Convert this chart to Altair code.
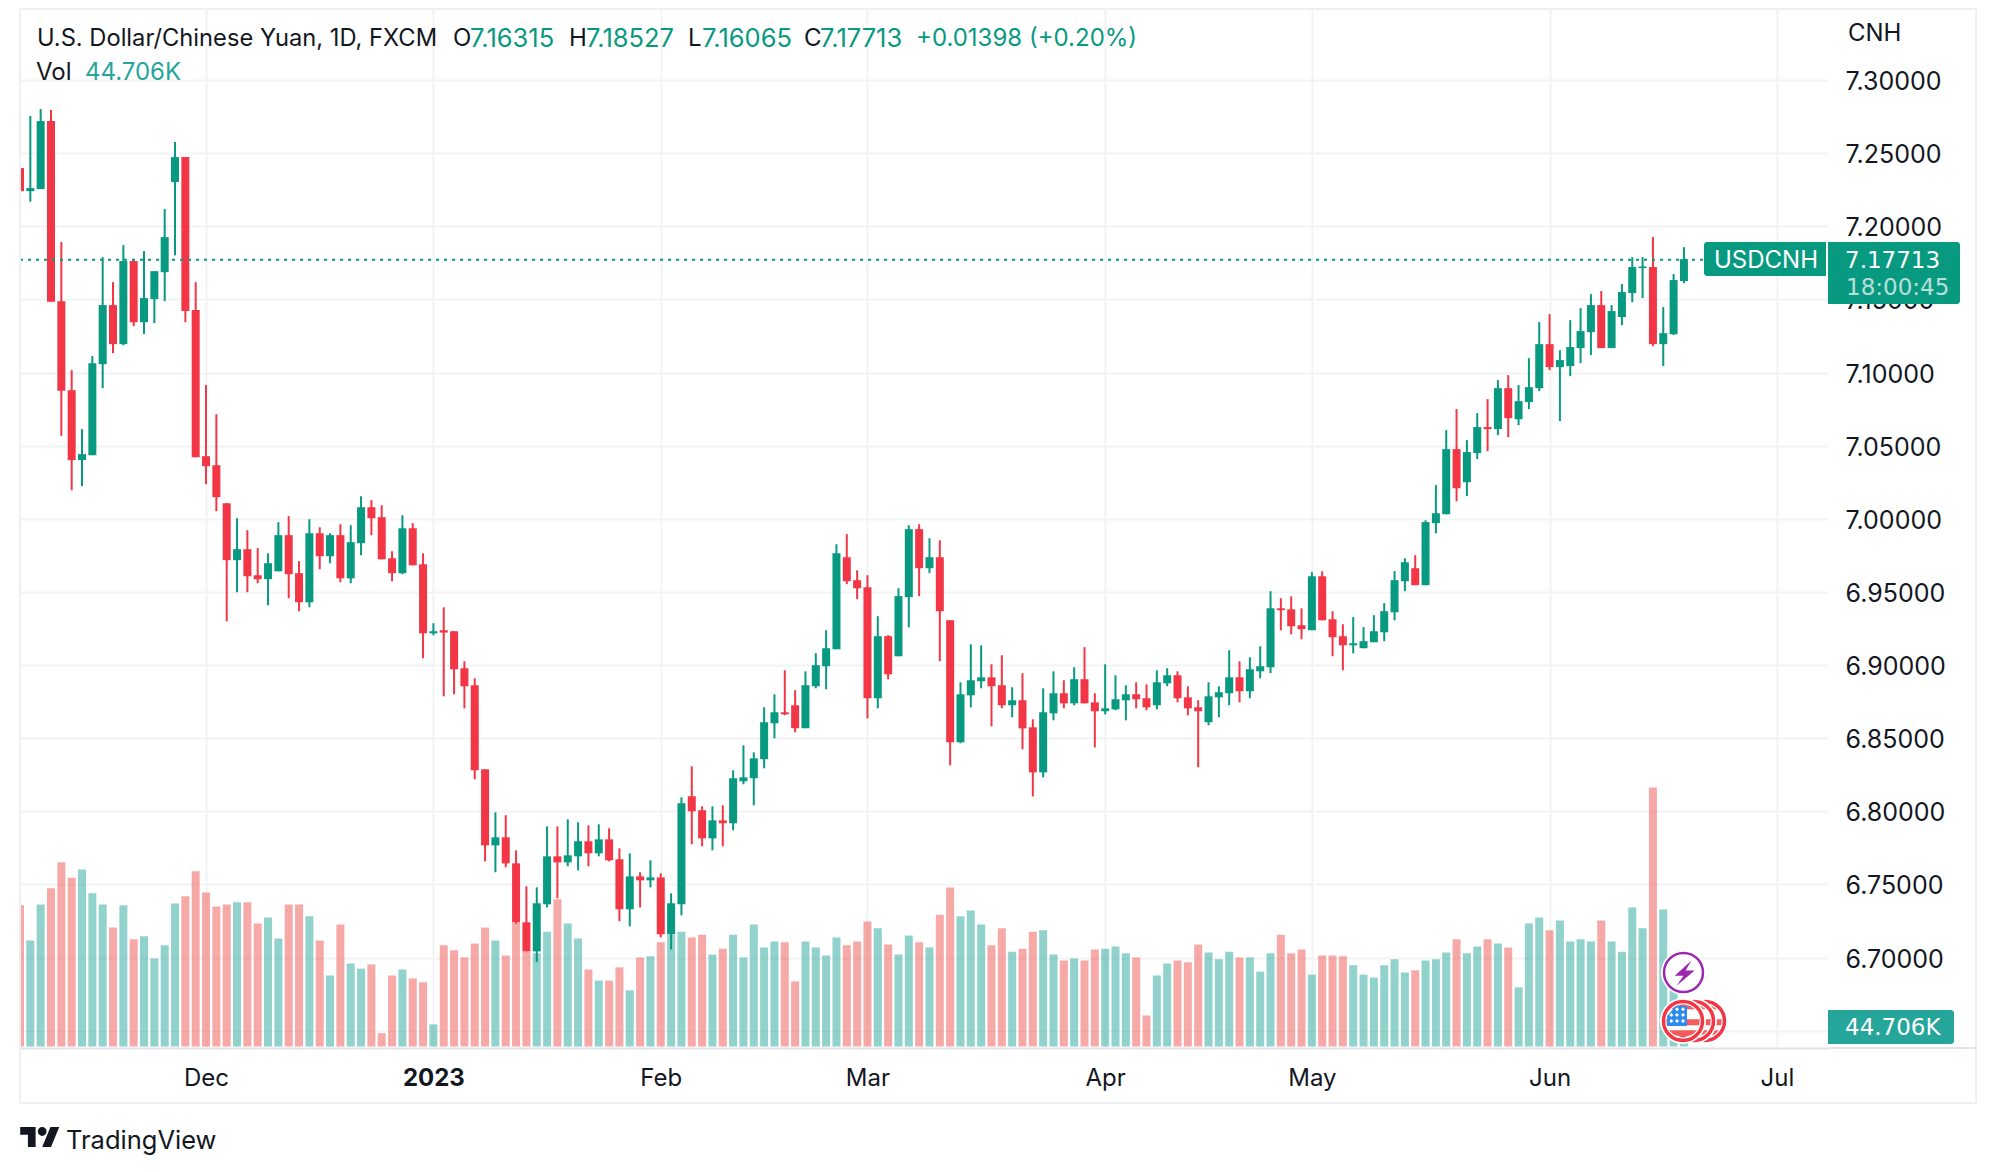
import altair as alt
import pandas as pd

open_ = [7.2398,7.2240,7.2254,7.2719,7.1488,7.0879,7.0401,7.0435,7.1057,7.1461,
7.1194,7.1762,7.1344,7.1502,7.1686,7.2302,7.2473,7.1427,7.0428,7.0366,
7.0106,6.9717,6.9792,6.9614,6.9587,6.9641,6.9888,6.9628,6.9429,6.9901,
6.9744,6.9888,6.9593,6.9833,7.0079,7.0011,6.9730,6.9628,6.9935,6.9689,
6.9217,6.9238,6.9231,6.8978,6.8862,6.8287,6.7767,6.7822,6.7644,6.7241,
6.7042,6.7364,6.7692,6.7651,6.7692,6.7795,6.7713,6.7808,6.7672,6.7330,
6.7555,6.7528,6.7548,6.7159,6.7364,6.8103,6.8007,6.7815,6.7938,6.7918,
6.8205,6.8226,6.8356,6.8602,6.8677,6.8725,6.8568,6.8855,6.8992,6.9108,
6.9737,6.9580,6.9532,6.8773,6.9197,6.9060,6.9464,6.9929,6.9662,6.9737,
6.9306,6.8472,6.8793,6.8889,6.8916,6.8862,6.8725,6.8759,6.8574,6.8266,
6.8670,6.8807,6.8738,6.8903,6.8745,6.8684,6.8697,6.8759,6.8800,6.8773,
6.8725,6.8875,6.8930,6.8779,6.8711,6.8609,6.8779,6.8807,6.8916,6.8821,
6.8957,6.8985,6.9388,6.9381,6.9272,6.9238,6.9607,6.9313,6.9197,6.9135,
6.9115,6.9156,6.9224,6.9361,6.9573,6.9662,6.9546,6.9970,7.0031,7.0476,
7.0250,7.0449,7.0627,7.0613,7.0893,7.0681,7.0798,7.0893,7.1194,7.1037,
7.1044,7.1167,7.1276,7.1461,7.1167,7.1379,7.1543,7.1714,7.1721,7.1194,
7.1262,7.1625]
high = [7.2596,7.2754,7.2801,7.2795,7.1892,7.1016,7.0613,7.1112,7.1789,7.1618,
7.1871,7.1769,7.1830,7.1693,7.2117,7.2576,7.2473,7.1618,7.0914,7.0715,
7.0106,7.0004,6.9922,6.9799,6.9764,6.9977,7.0018,6.9710,6.9997,6.9942,
6.9901,6.9963,6.9956,7.0154,7.0127,7.0093,6.9778,7.0024,6.9970,6.9764,
6.9286,6.9395,6.9231,6.9026,6.8909,6.8287,6.7993,6.7973,6.7733,6.7487,
6.7480,6.7897,6.7897,6.7945,6.7925,6.7904,6.7911,6.7884,6.7747,6.7713,
6.7583,6.7665,6.7576,6.7439,6.8096,6.8308,6.8034,6.8034,6.8041,6.8280,
6.8451,6.8403,6.8711,6.8800,6.8964,6.8828,6.8957,6.9081,6.9238,6.9826,
6.9895,6.9648,6.9614,6.9334,6.9204,6.9525,6.9956,6.9963,6.9867,6.9853,
6.9306,6.8882,6.9142,6.9135,6.9005,6.9067,6.8848,6.8944,6.8629,6.8841,
6.8957,6.8896,6.8985,6.9122,6.8807,6.9005,6.8930,6.8862,6.8882,6.8868,
6.8964,6.8978,6.8957,6.8855,6.8759,6.8882,6.8855,6.9101,6.9026,6.9053,
6.9128,6.9505,6.9457,6.9470,6.9388,6.9635,6.9641,6.9368,6.9279,6.9327,
6.9259,6.9341,6.9423,6.9642,6.9730,6.9751,6.9990,7.0230,7.0606,7.0750,
7.0538,7.0722,7.0818,7.0948,7.0982,7.0914,7.1098,7.1345,7.1399,7.1153,
7.1358,7.1440,7.1536,7.1557,7.1461,7.1605,7.1789,7.1789,7.1926,7.1447,
7.1673,7.1857]
low = [7.1928,7.2168,7.2254,7.1484,7.0567,7.0195,7.0223,7.0435,7.0893,7.1132,
7.1187,7.1317,7.1262,7.1338,7.1488,7.1801,7.1344,7.0421,7.0236,7.0052,
6.9299,6.9498,6.9498,6.9559,6.9409,6.9641,6.9457,6.9368,6.9395,6.9655,
6.9696,6.9566,6.9559,6.9751,6.9888,6.9723,6.9573,6.9621,6.9682,6.9046,
6.9204,6.8786,6.8800,6.8704,6.8219,6.7658,6.7583,6.7617,6.7232,6.7042,
6.6969,6.7343,6.7405,6.7624,6.7596,6.7624,6.7692,6.7658,6.7248,6.7213,
6.7343,6.7480,6.7138,6.7056,6.7289,6.7774,6.7761,6.7733,6.7761,6.7870,
6.8185,6.8041,6.8294,6.8499,6.8657,6.8540,6.8568,6.8841,6.8834,6.9108,
6.9553,6.9450,6.8636,6.8704,6.8903,6.9060,6.9258,6.9471,6.9628,6.9026,
6.8314,6.8465,6.8711,6.8841,6.8581,6.8704,6.8643,6.8424,6.8102,6.8232,
6.8622,6.8704,6.8725,6.8738,6.8437,6.8663,6.8691,6.8622,6.8704,6.8691,
6.8697,6.8855,6.8745,6.8656,6.8301,6.8588,6.8643,6.8725,6.8745,6.8773,
6.8909,6.8944,6.9238,6.9210,6.9176,6.9238,6.9306,6.9060,6.8964,6.9080,
6.9115,6.9156,6.9163,6.9306,6.9505,6.9546,6.9546,6.9901,7.0031,7.0120,
7.0155,7.0408,7.0462,7.0572,7.0558,7.0640,7.0750,7.0873,7.1016,7.0668,
7.0975,7.1064,7.1119,7.1167,7.1167,7.1324,7.1481,7.1509,7.1180,7.1044,
7.1256,7.1611]
close = [7.2240,7.2261,7.2719,7.1484,7.0875,7.0401,7.0442,7.1064,7.1461,7.1194,
7.1762,7.1344,7.1509,7.1693,7.1926,7.2473,7.1420,7.0421,7.0360,7.0148,
6.9717,6.9792,6.9607,6.9587,6.9696,6.9888,6.9621,6.9429,6.9901,6.9744,
6.9888,6.9593,6.9840,7.0079,7.0004,6.9723,6.9628,6.9935,6.9682,6.9217,
6.9231,6.9222,6.8971,6.8855,6.8280,6.7767,6.7822,6.7644,6.7243,6.7042,
6.7371,6.7692,6.7651,6.7699,6.7795,6.7713,6.7808,6.7665,6.7330,6.7555,
6.7528,6.7548,6.7159,6.7371,6.8055,6.8000,6.7815,6.7938,6.7918,6.8226,
6.8232,6.8362,6.8609,6.8677,6.8663,6.8568,6.8862,6.8999,6.9115,6.9765,
6.9573,6.9525,6.8773,6.9197,6.8937,6.9471,6.9929,6.9662,6.9737,6.9368,
6.8472,6.8800,6.8896,6.8916,6.8855,6.8725,6.8759,6.8567,6.8266,6.8677,
6.8807,6.8738,6.8903,6.8738,6.8684,6.8704,6.8766,6.8800,6.8766,6.8711,
6.8882,6.8930,6.8773,6.8704,6.8684,6.8786,6.8814,6.8916,6.8821,6.8971,
6.8992,6.9388,6.9375,6.9265,6.9245,6.9607,6.9306,6.9190,6.9135,6.9149,
6.9163,6.9231,6.9368,6.9580,6.9703,6.9546,6.9977,7.0038,7.0476,7.0209,
7.0456,7.0627,7.0613,7.0893,7.0688,7.0804,7.0900,7.1194,7.1037,7.1085,
7.1174,7.1283,7.1461,7.1167,7.1420,7.1550,7.1721,7.1725,7.1194,7.1269,
7.1632,7.1775]
volume_k = [332,249,334,372,433,397,416,360,334,280,332,252,259,207,238,336,353,412,362,329,
334,339,339,289,303,254,334,334,306,249,167,287,195,183,193,31,167,181,160,151,
52,238,226,209,242,280,249,214,294,223,219,270,346,289,254,181,155,155,186,132,
209,212,245,263,270,256,263,216,230,263,209,287,233,247,245,153,247,233,214,256,
238,247,294,278,240,216,261,245,233,310,374,306,320,287,238,278,223,230,270,273,
216,202,207,202,228,230,235,219,209,73,167,195,202,198,240,221,205,223,209,209,
176,219,263,219,228,169,214,214,212,191,169,162,191,205,174,179,202,205,221,252,
219,235,252,242,233,139,289,303,273,296,247,252,247,296,247,223,327,278,609,322,
163,44.706]

tick_index = [18, 40, 62, 82, 105, 125, 148, 170]
tick_names = ["Dec", "2023", "Feb", "Mar", "Apr", "May", "Jun", "Jul"]
price_ticks = [7.30,7.25,7.20,7.15,7.10,7.05,7.00,6.95,6.90,6.85,6.80,6.75,6.70,6.65]
last_price = 7.17713

GREEN, RED = "#089981", "#F23645"
VGREEN, VRED = "#26A69A", "#EF5350"
INK = "#131722"
FONT = "Inter"
MONO = "DejaVu Sans"

df = pd.DataFrame({"i": range(len(close)), "open": open_, "high": high, "low": low,
                   "close": close, "vol": volume_k})
df["top"] = df[["open", "close"]].max(axis=1)
df["bot"] = df[["open", "close"]].min(axis=1)
up = df["close"] >= df["open"]
df["ccol"] = [GREEN if u else RED for u in up]
df["vcol"] = [VGREEN if u else VRED for u in up]

W, H = 1808, 1040
one = pd.DataFrame({"a": [0]})
label_map = "{" + ",".join(f"{i}:'{n}'" for i, n in zip(tick_index, tick_names)) + "}"

X = alt.X("i:Q", title=None, scale=alt.Scale(domain=[0, 174.94], nice=False, zero=False, padding=0),
          axis=alt.Axis(values=tick_index, labelExpr=f"{label_map}[datum.value]", ticks=False,
                        grid=True, gridColor="#f2f3f4", gridWidth=2,
                        domainColor="#e0e3eb", domainWidth=2, labelFont=FONT, labelFontSize=24,
                        labelColor=INK, labelPadding=18, labelFlush=False, labelOverlap=False,
                        labelFontWeight={"condition": {"test": "datum.value === 40", "value": "bold"},
                                         "value": "normal"}))
PS = alt.Scale(domain=[6.63816, 7.34923], nice=False, zero=False)
Y_AXIS = alt.Y("high:Q", title=None, scale=PS,
               axis=alt.Axis(orient="right", values=price_ticks, format=".5f", ticks=False,
                             grid=True, gridColor="#f2f3f4", gridWidth=2, domain=False,
                             labelFont=FONT, labelFontSize=25, labelColor=INK, labelPadding=17,
                             labelOffset=1.5, labelOverlap=False, labelFlush=False))
base = alt.Chart(df)

vol = base.mark_bar(size=8, clip=True, opacity=0.5, orient="vertical").encode(
    x=X,
    y=alt.Y("vol:Q", title=None, axis=None,
            scale=alt.Scale(domain=[0, 2441.4], range=[1038.5, 0], nice=False)),
    color=alt.Color("vcol:N", scale=None, legend=None))
wick = base.mark_rule(strokeWidth=2, clip=True).encode(
    x=X, y=Y_AXIS, y2="low:Q", color=alt.Color("ccol:N", scale=None, legend=None))
body = base.mark_bar(size=8, clip=True, orient="vertical").encode(
    x=X, y=alt.Y("top:Q", title=None, scale=PS, axis=None), y2="bot:Q",
    color=alt.Color("ccol:N", scale=None, legend=None))
price_line = alt.Chart(pd.DataFrame({"p": [last_price]})).mark_rule(
    strokeWidth=2, strokeDash=[3, 5], color=GREEN).encode(
    x=alt.value(0), x2=alt.value(1684), y=alt.Y("p:Q", title=None, scale=PS, axis=None))


def px(v):
    return alt.value(v - 20)


def py(v):
    return alt.value(v - 8)


def text(s, x, y, color=INK, size=24, weight="normal", opacity=1.0, font=FONT):
    return alt.Chart(one).mark_text(text=s, align="left", baseline="middle", color=color, font=font,
                                    fontSize=size, fontWeight=weight, opacity=opacity).encode(
        x=px(x), y=py(y))


def rect(x0, x1, y0, y1, color, **kw):
    return alt.Chart(one).mark_rect(color=color, **kw).encode(
        x=px(x0), x2=px(x1), y=py(y0), y2=py(y1))


def line(x0, x1, y0, y1, color="#eef0f4", w=2):
    return alt.Chart(one).mark_rule(color=color, strokeWidth=w).encode(
        x=px(x0), x2=px(x1), y=py(y0), y2=py(y1))


def sym(shape, x, y, size, **kw):
    return alt.Chart(one).mark_point(shape=shape, size=size, **kw).encode(x=px(x), y=py(y))


borders = [
    line(20, 20, 9, 1103), line(1976, 1976, 9, 1103), line(20, 1976, 9, 9),
    line(20, 1976, 1103, 1103), line(1828, 1976, 1048, 1048, color="#e0e3eb"),
]

tags = [
    rect(1704, 1826, 242, 276, GREEN, cornerRadiusTopLeft=3, cornerRadiusBottomLeft=3),
    rect(1828, 1960, 242, 304, GREEN, cornerRadiusTopRight=3, cornerRadiusBottomRight=3),
    rect(1828, 1954, 1010, 1044, VGREEN, cornerRadiusTopRight=3, cornerRadiusBottomRight=3),
    text("USDCNH", 1714, 260.5, color="#ffffff"),
    text("7.17713", 1845, 260.5, color="#ffffff", font=MONO, size=23),
    text("18:00:45", 1846, 288, color="#ffffff", opacity=0.7, font=MONO, size=23),
    text("44.706K", 1845, 1028, color="#ffffff", font=MONO, size=23),
    text("CNH", 1848, 33.5),
]

legend = [
    text("U.S. Dollar/Chinese Yuan, 1D, FXCM", 37, 38.5, size=23.7),
    text("O", 453, 38.5), text("7.16315", 470, 38.5, color=GREEN, size=25.5),
    text("H", 569, 38.5), text("7.18527", 586, 38.5, color=GREEN, size=25.5),
    text("L", 688, 38.5), text("7.16065", 702, 38.5, color=GREEN, size=25.5),
    text("C", 804, 38.5), text("7.17713", 820, 38.5, color=GREEN, size=25.5),
    text("+0.01398 (+0.20%)", 916, 38.5, color=GREEN),
    text("Vol", 36, 72.5), text("44.706K", 85, 72.5, color=VGREEN),
]

# TradingView footer
logo = ("M-.222 .5H-.611V-.111H-1V-.5H-.222Z"
        "M.556 .5H.111L.528 -.5H.972Z"
        "M.333 -.278a.222 .222 0 1 1 -.444 0a.222 .222 0 1 1 .444 0Z")
footer = [sym(logo, 40, 1137, 1568, filled=True, color=INK, opacity=1),
          text("TradingView", 66, 1141, size=25.5)]

# Event icons
BOLT = "M.67 -1L-.73 .27L0 .27L-.57 1.1L.93 -.17L.17 -.17Z"
RED_BANDS = ("M-.71 -.7L.71 -.7L.4 -.92L0 -1L-.4 -.92Z"
             "M-1 -.1L1 -.1L.966 .26L-.966 .26Z"
             "M-.83 .56L.83 .56L.6 .8L0 1L-.6 .8Z")
CANTON = "M-.44 -.9L.24 -.9L.24 .3L-.95 .3L-.95 -.3Z"
stars = [(-.36, -.7), (0, -.7), (-.7, -.36), (-.36, -.36), (0, -.36), (-.7, 0), (-.36, 0), (0, 0)]
STARS = "".join(f"M{x-.12:.2f} {y:.2f}L{x:.2f} {y-.12:.2f}L{x+.12:.2f} {y:.2f}L{x:.2f} {y+.12:.2f}Z"
                for x, y in stars)


def flag(cx, cy=1021):
    return [
        sym("circle", cx, cy, 46 ** 2, filled=True, color="#ffffff", opacity=1),
        sym("circle", cx, cy, 39 ** 2, filled=False, color=RED, strokeWidth=3.5, opacity=1),
        sym(RED_BANDS, cx, cy, 33.4 ** 2, filled=True, color="#f45b5b", opacity=1),
        sym(CANTON, cx, cy, 33.4 ** 2, filled=True, color="#2d8ceb", opacity=1),
        sym(STARS, cx, cy, 33.4 ** 2, filled=True, color="#ffffff", opacity=1),
    ]


icons = [
    sym("circle", 1683.5, 972.5, 45 ** 2, filled=True, color="#ffffff", opacity=1),
    sym("circle", 1683.5, 972.5, 39 ** 2, filled=False, color="#9C27B0", strokeWidth=2.5, opacity=1),
    sym(BOLT, 1683.5, 972.5, 24 ** 2, filled=True, color="#9C27B0", opacity=1),
] + flag(1705) + flag(1694) + flag(1683)

chart = alt.layer(vol, wick, body, price_line, *borders, *tags, *legend, *footer, *icons).resolve_scale(
    y="independent"
).properties(
    width=W, height=H, background="#ffffff",
    padding={"left": 12, "top": 0, "right": 150, "bottom": 110},
    autosize=alt.AutoSizeParams(type="none"),
).configure_view(stroke=None)

chart.save("out.html", embed_options={"renderer": "svg", "actions": False})
